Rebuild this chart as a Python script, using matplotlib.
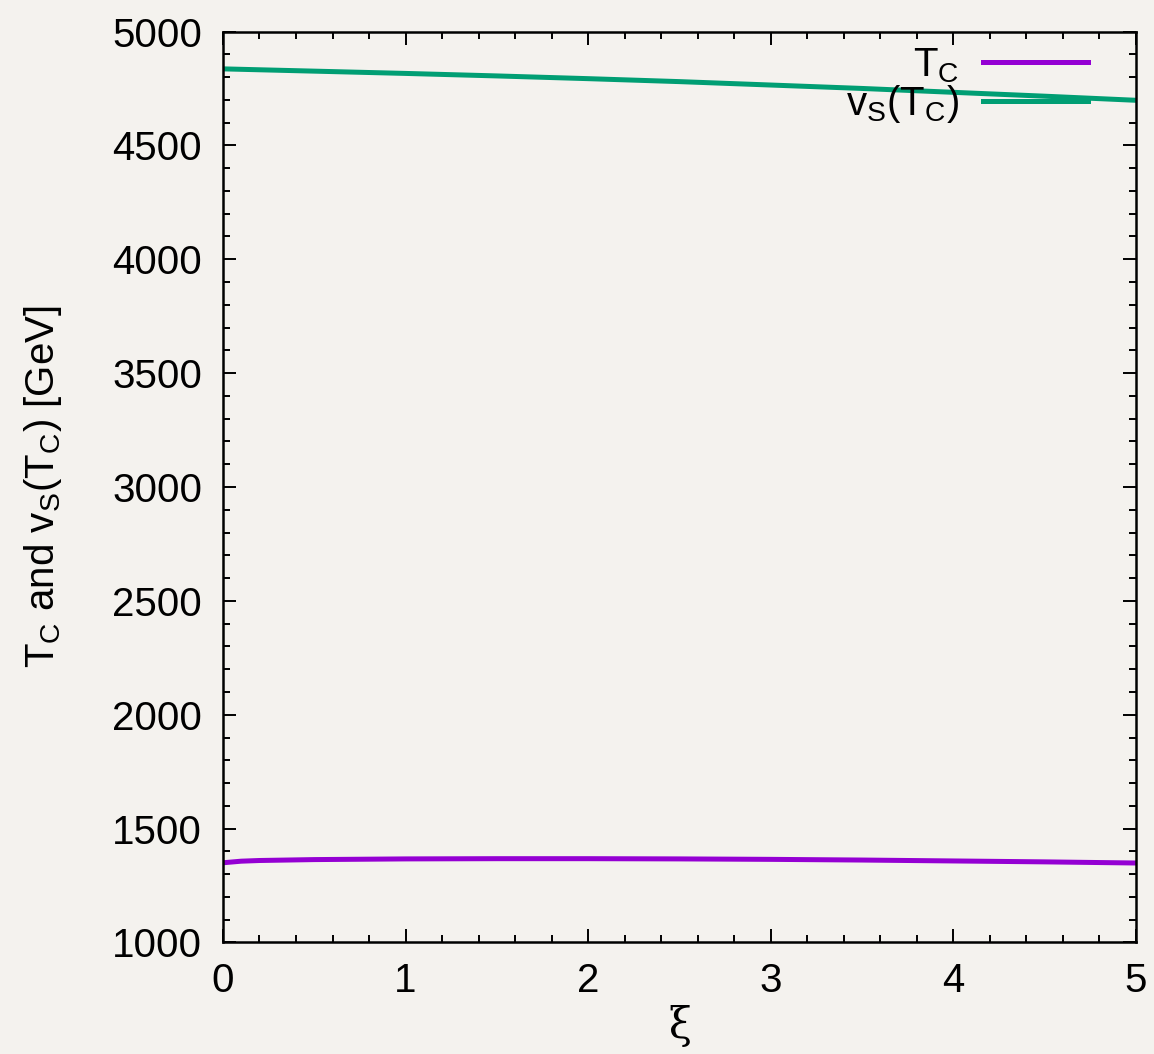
import matplotlib.pyplot as plt
from matplotlib.ticker import MultipleLocator

# xi scan of the critical temperature and the singlet vev at T_C
xi = [0.0, 0.1, 0.2, 0.5, 1.0, 1.5, 2.0, 2.5, 3.0, 3.5, 4.0, 4.5, 5.0]
t_c = [1350, 1357, 1360, 1364, 1367, 1368, 1368, 1367, 1365, 1362, 1358, 1354, 1349]
vs_tc = [4836, 4834, 4832, 4826, 4816, 4805, 4793, 4780, 4765, 4750, 4733, 4716, 4698]

x_ticks = [0, 1, 2, 3, 4, 5]
y_ticks = [1000, 1500, 2000, 2500, 3000, 3500, 4000, 4500, 5000]

BG = "#f4f2ee"
PURPLE = "#9400d3"
GREEN = "#009e73"

plt.rcParams["font.family"] = ["Liberation Sans", "DejaVu Sans"]
plt.rcParams["mathtext.fontset"] = "custom"
plt.rcParams["mathtext.rm"] = "Liberation Sans"

fig = plt.figure(figsize=(11.54, 10.54), dpi=100)
fig.patch.set_facecolor(BG)
ax = fig.add_axes([0.1932, 0.1058, 0.7912, 0.8643])
ax.set_facecolor(BG)

ax.plot(xi, t_c, color=PURPLE, lw=3.6, label=r"$\mathregular{T_C}$")
ax.plot(xi, vs_tc, color=GREEN, lw=3.6, label=r"$\mathregular{v_S(T_C)}$")

ax.set_xlim(0, 5)
ax.set_ylim(1000, 5000)
ax.set_xticks(x_ticks)
ax.set_yticks(y_ticks)
ax.xaxis.set_minor_locator(MultipleLocator(0.2))
ax.yaxis.set_minor_locator(MultipleLocator(100))

for s in ax.spines.values():
    s.set_linewidth(1.8)

ax.tick_params(which="both", direction="in", top=True, right=True,
               labelsize=29, width=1.4)
ax.tick_params(which="major", length=9.5)
ax.tick_params(which="minor", length=5)
ax.tick_params(axis="x", pad=14)
ax.tick_params(axis="y", pad=15)

ax.set_xlabel("ξ", fontsize=30, family="DejaVu Serif", labelpad=4)
ax.set_ylabel(r"$\mathregular{T_C}$ and $\mathregular{v_S(T_C)}$ [GeV]",
              fontsize=29, labelpad=35)

# key sits in the top right corner, line samples after the text
ax.legend(loc="upper right", bbox_to_anchor=(0.947, 0.984), frameon=False,
          markerfirst=False, fontsize=29, handlelength=2.6, handletextpad=0.6,
          labelspacing=-0.05, borderaxespad=0.0, borderpad=0.0)

fig.savefig("out.png", dpi=100, facecolor=BG)
